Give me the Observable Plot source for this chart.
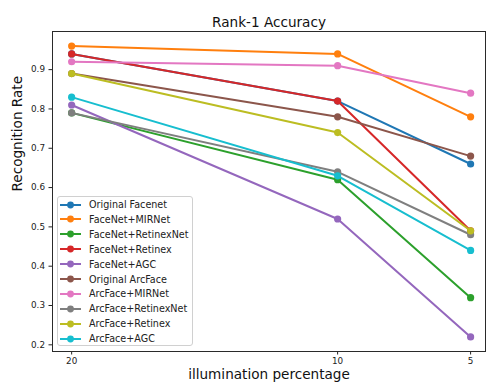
<!DOCTYPE html>
<html>
<head>
<meta charset="utf-8">
<script src="https://cdn.jsdelivr.net/npm/d3@7"></script>
<script src="https://cdn.jsdelivr.net/npm/@observablehq/plot@0.6"></script>
<style>
  html, body { margin: 0; padding: 0; background: #fff; }
  #wrap { position: relative; width: 487px; height: 385px; font-family: "DejaVu Sans", sans-serif; }
  #legend { position: absolute; left: 57px; top: 196px; width: 136px; height: 150px;
    border: 1px solid #d0d0d0; border-radius: 3px; background: rgba(255,255,255,0.85); box-sizing: border-box; }
  .row { position: absolute; left: 0; height: 14px; display: flex; align-items: center; font-size: 9.6px; color: #222; white-space: nowrap; }
  .row svg { margin-left: 2px; margin-right: 8px; }
</style>
</head>
<body>
<div id="wrap"><div id="legend"></div></div>
<script>
const illumination = [20, 10, 5];
const seriesNames = ["Original Facenet", "FaceNet+MIRNet", "FaceNet+RetinexNet", "FaceNet+Retinex", "FaceNet+AGC",
  "Original ArcFace", "ArcFace+MIRNet", "ArcFace+RetinexNet", "ArcFace+Retinex", "ArcFace+AGC"];
const colors = ["#1f77b4", "#ff7f0e", "#2ca02c", "#d62728", "#9467bd", "#8c564b", "#e377c2", "#7f7f7f", "#bcbd22", "#17becf"];
const originalFacenet   = [0.94, 0.82, 0.66];
const facenetMIRNet     = [0.96, 0.94, 0.78];
const facenetRetinexNet = [0.79, 0.62, 0.32];
const facenetRetinex    = [0.94, 0.82, 0.49];
const facenetAGC        = [0.81, 0.52, 0.22];
const originalArcFace   = [0.89, 0.78, 0.68];
const arcfaceMIRNet     = [0.92, 0.91, 0.84];
const arcfaceRetinexNet = [0.79, 0.64, 0.48];
const arcfaceRetinex    = [0.89, 0.74, 0.49];
const arcfaceAGC        = [0.83, 0.63, 0.44];
const seriesValues = [originalFacenet, facenetMIRNet, facenetRetinexNet, facenetRetinex, facenetAGC,
  originalArcFace, arcfaceMIRNet, arcfaceRetinexNet, arcfaceRetinex, arcfaceAGC];
const yTicks = [0.2, 0.3, 0.4, 0.5, 0.6, 0.7, 0.8, 0.9];

const perSeriesMarks = [];
seriesNames.forEach((name, i) => {
  const rows = illumination.map((x, j) => ({x, y: seriesValues[i][j], s: name}));
  perSeriesMarks.push(Plot.line(rows, {x: "x", y: "y", stroke: "s", strokeWidth: 2}));
  perSeriesMarks.push(Plot.dot(rows, {x: "x", y: "y", fill: "s", r: 3.6}));
});

const chart = Plot.plot({
  width: 487,
  height: 385,
  marginLeft: 52,
  marginRight: 2,
  marginTop: 31,
  marginBottom: 34,
  style: {fontFamily: "DejaVu Sans, sans-serif", fontSize: "8.8px", color: "#222", background: "#fff"},
  x: {type: "linear", domain: [20.72, 4.44], ticks: illumination, tickFormat: d => String(d)},
  y: {domain: [0.183, 0.997], ticks: yTicks, tickFormat: d => d.toFixed(1)},
  color: {domain: seriesNames, range: colors},
  marks: [
    Plot.axisX({ticks: illumination, tickFormat: d => String(d), tickSize: 3.5, tickPadding: 3, label: null, fontSize: 8.8}),
    Plot.axisY({ticks: yTicks, tickFormat: d => d.toFixed(1), tickSize: 3.5, tickPadding: 4, label: null, fontSize: 8.8}),
    ...perSeriesMarks,
    Plot.frame({stroke: "#2a2a2a", strokeWidth: 1}),
    Plot.text(["Rank-1 Accuracy"], {frameAnchor: "top", dy: -14, fontSize: 13.6, fill: "#111"}),
    Plot.text(["illumination percentage"], {frameAnchor: "bottom", dy: 27.5, fontSize: 13.6, fill: "#111"}),
    Plot.text(["Recognition Rate"], {frameAnchor: "left", dx: -35, rotate: -90, fontSize: 13.6, fill: "#111"})
  ]
});
document.getElementById("wrap").prepend(chart);

const legend = document.getElementById("legend");
seriesNames.forEach((name, i) => {
  const row = document.createElement("div");
  row.className = "row";
  row.style.top = (0.5 + i * 14.9) + "px";
  row.innerHTML = `<svg width="21" height="10"><line x1="0" y1="5" x2="21" y2="5" stroke="${colors[i]}" stroke-width="2"/><circle cx="10.5" cy="5" r="3.4" fill="${colors[i]}"/></svg><span>${name}</span>`;
  legend.appendChild(row);
});
</script>
</body>
</html>
